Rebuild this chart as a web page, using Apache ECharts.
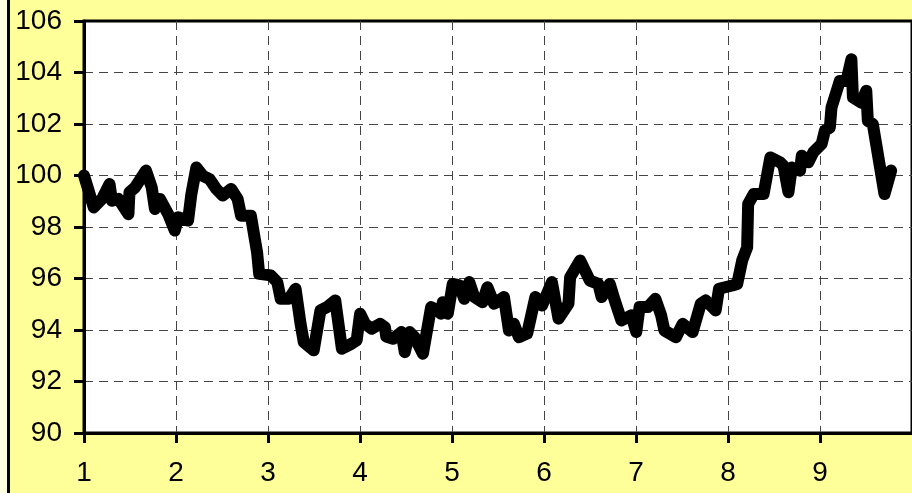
<!DOCTYPE html>
<html>
<head>
<meta charset="utf-8">
<script src="https://cdn.jsdelivr.net/npm/echarts@6/dist/echarts.min.js"></script>
<style>
html,body{margin:0;padding:0;background:#FFFF99;}
#chart{width:912px;height:493px;}
</style>
</head>
<body>
<div id="chart"></div>
<script>
// x positions (axis units) and y values of the line
const xValues = [1.0,1.106,1.196,1.278,1.304,1.375,1.483,1.494,1.556,1.674,1.736,1.771,1.825,1.915,1.987,2.023,2.131,2.167,2.221,2.292,2.365,2.437,2.508,2.599,2.670,2.707,2.814,2.832,2.882,2.904,3.030,3.101,3.138,3.228,3.300,3.354,3.389,3.497,3.570,3.641,3.731,3.803,3.910,3.964,4.001,4.055,4.126,4.217,4.271,4.285,4.360,4.450,4.487,4.540,4.594,4.684,4.773,4.846,4.881,4.900,4.954,5.008,5.080,5.134,5.188,5.242,5.331,5.385,5.457,5.565,5.619,5.673,5.727,5.817,5.906,5.978,6.086,6.158,6.266,6.284,6.392,6.499,6.590,6.626,6.715,6.769,6.841,6.949,7.003,7.039,7.129,7.211,7.273,7.309,7.435,7.507,7.615,7.704,7.758,7.866,7.902,8.046,8.100,8.154,8.208,8.219,8.279,8.387,8.460,8.567,8.603,8.657,8.694,8.783,8.802,8.873,8.927,9.017,9.053,9.107,9.125,9.215,9.287,9.341,9.358,9.449,9.503,9.520,9.574,9.701,9.773];
const yValues = [100.0,98.76,99.09,99.67,99.02,99.09,98.5,99.35,99.54,100.19,99.54,98.7,99.09,98.5,97.86,98.38,98.25,99.28,100.31,99.99,99.86,99.48,99.22,99.48,99.09,98.44,98.44,98.5,97.0,96.18,96.12,95.86,95.21,95.21,95.6,94.24,93.53,93.21,94.76,94.89,95.15,93.27,93.47,93.6,94.63,94.24,94.05,94.24,94.11,93.75,93.66,93.92,93.14,93.92,93.72,93.08,94.89,94.76,94.63,95.08,94.63,95.79,95.73,95.21,95.86,95.28,95.08,95.66,95.02,95.28,93.98,94.24,93.72,93.86,95.28,94.95,95.86,94.44,95.02,96.05,96.7,95.92,95.79,95.28,95.79,95.15,94.37,94.57,93.92,94.89,94.89,95.21,94.57,93.98,93.72,94.24,93.92,95.02,95.15,94.76,95.6,95.73,95.79,96.7,97.21,98.89,99.28,99.28,100.7,100.51,100.38,99.35,100.31,100.19,100.77,100.51,100.9,101.22,101.74,101.86,102.64,103.67,103.67,104.51,103.03,102.83,103.29,102.12,102.0,99.28,100.19];
const xTicks = ['1','2','3','4','5','6','7','8','9'];
const yMin = 90, yMax = 106, yStep = 2;

const data = xValues.map((x, i) => [x, yValues[i]]);
const font = '"Liberation Sans", Arial, sans-serif';

const chart = echarts.init(document.getElementById('chart'), null, {renderer: 'canvas'});
chart.setOption({
  backgroundColor: '#FFFF99',
  animation: false,
  graphic: [
    {type: 'rect', left: 0, top: 0, shape: {x: 0, y: 0, width: 7, height: 493}, style: {fill: '#FFFFE2'}, z: 0},
    {type: 'line', shape: {x1: 8.5, y1: 0, x2: 8.5, y2: 493}, style: {stroke: '#000', lineWidth: 3}, z: 0}
  ],
  grid: {
    left: 84, right: -6, top: 21, bottom: 60,
    show: true, backgroundColor: '#fff', borderColor: '#000', borderWidth: 3
  },
  xAxis: {
    type: 'value', min: 1, max: 10, interval: 1,
    axisLine: {show: true, onZero: false, lineStyle: {color: '#000', width: 3}},
    axisTick: {show: true, length: 10, lineStyle: {color: '#000', width: 3}},
    axisLabel: {
      color: '#000', fontSize: 28, fontFamily: font, margin: 26,
      showMaxLabel: false,
      formatter: v => { const i = Math.round(v) - 1; return xTicks[i] !== undefined ? xTicks[i] : ''; }
    },
    splitLine: {show: true, showMinLine: false, showMaxLine: false, lineStyle: {color: '#444', width: 1, type: [9, 6]}}
  },
  yAxis: {
    type: 'value', min: yMin, max: yMax, interval: yStep,
    axisLine: {show: true, lineStyle: {color: '#000', width: 3}},
    axisTick: {show: true, length: 10, lineStyle: {color: '#000', width: 3}},
    axisLabel: {color: '#000', fontSize: 28, fontFamily: font, margin: 22},
    splitLine: {show: true, showMinLine: false, showMaxLine: false, lineStyle: {color: '#444', width: 1, type: [9, 6]}}
  },
  series: [{
    type: 'line', data: data, showSymbol: false, smooth: false,
    lineStyle: {color: '#000', width: 12, cap: 'round', join: 'round'},
    clip: false
  }]
});
</script>
</body>
</html>
